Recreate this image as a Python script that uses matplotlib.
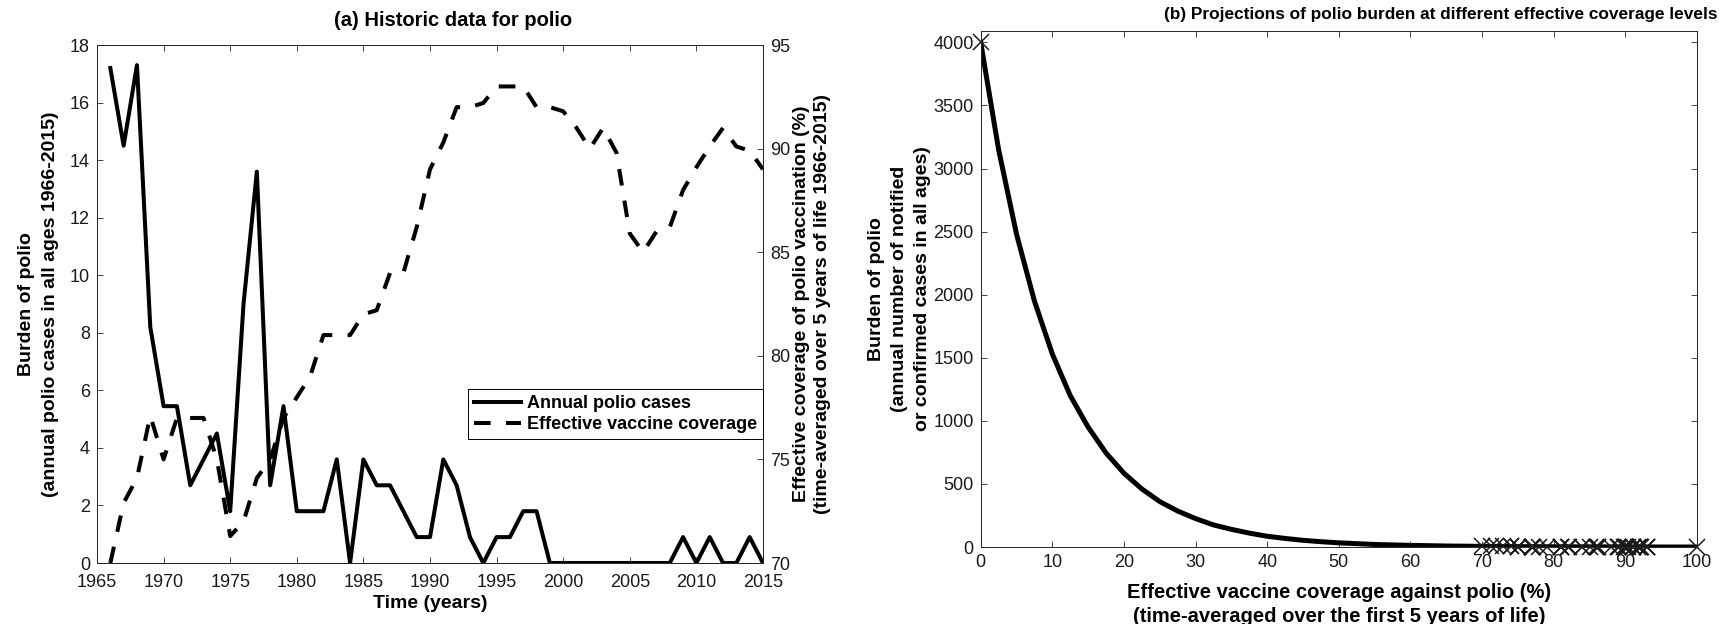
import matplotlib
matplotlib.use("Agg")
import matplotlib.pyplot as plt

# ============================================================
# DATA
# ============================================================

years = list(range(1966, 2016))

# annual polio cases (left axis, panel a)
cases = [17.2, 14.5, 17.3, 8.2, 5.45, 5.45, 2.7, 3.6, 4.5, 1.8,
         9.0, 13.6, 2.7, 5.45, 1.8, 1.8, 1.8, 3.6, 0.0, 3.6,
         2.7, 2.7, 1.8, 0.9, 0.9, 3.6, 2.7, 0.9, 0.0, 0.9,
         0.9, 1.8, 1.8, 0.0, 0.0, 0.0, 0.0, 0.0, 0.0, 0.0,
         0.0, 0.0, 0.0, 0.9, 0.0, 0.9, 0.0, 0.0, 0.9, 0.0]

# effective vaccine coverage in % (right axis, panel a)
coverage = [70.0, 72.9, 74.1, 77.1, 75.0, 77.0, 77.0, 77.0, 75.0, 71.3,
            72.0, 74.1, 75.0, 77.0, 78.0, 79.0, 81.0, 81.0, 81.0, 82.0,
            82.2, 84.0, 84.0, 86.2, 89.0, 90.3, 92.0, 92.0, 92.2, 93.0,
            93.0, 93.0, 92.0, 92.0, 91.8, 91.0, 90.0, 91.0, 89.8, 85.9,
            85.0, 86.0, 86.2, 88.0, 89.1, 90.1, 91.0, 90.1, 89.9, 89.0]

# projected burden vs effective coverage (panel b)
proj_cov = [0, 2.5, 5, 7.5, 10, 12.5, 15, 17.5, 20, 22.5, 25, 27.5, 30,
            32.5, 35, 37.5, 40, 42.5, 45, 47.5, 50, 55, 60, 65, 70, 75,
            80, 85, 90, 95, 100]
proj_burden = [4000, 3150, 2480, 1950, 1530, 1200, 950, 745, 585, 460,
               360, 285, 225, 175, 140, 110, 85, 68, 53, 42, 33, 20, 13,
               8, 5, 3, 2, 1, 1, 0, 0]

# crosses: extremes plus the historic coverage levels
marker_cov = [0] + coverage + [100]
marker_burden = [4000,
                 5, 4, 4, 3, 3, 3, 3, 3, 3, 5,
                 4, 4, 3, 3, 2, 2, 2, 2, 2, 2,
                 2, 1, 1, 1, 1, 1, 1, 1, 1, 1,
                 1, 1, 1, 1, 1, 1, 1, 1, 1, 1,
                 1, 1, 1, 1, 1, 1, 1, 1, 1, 1,
                 0]

year_ticks = list(range(1965, 2020, 5))
case_ticks = list(range(0, 20, 2))
cov_ticks = list(range(70, 100, 5))
proj_xticks = list(range(0, 110, 10))
proj_yticks = list(range(0, 4500, 500))

# ============================================================
# STYLE
# ============================================================

plt.rcParams['font.family'] = ['Liberation Sans', 'DejaVu Sans']
plt.rcParams['lines.scale_dashes'] = False

W, H = 1719, 624
AX_COL = '0.15'
TICK_FS = 13
LAB_FS = 14
TITLE_FS = 14.5


def style_axis(ax):
    for s in ax.spines.values():
        s.set_color(AX_COL)
        s.set_linewidth(0.7)
    ax.tick_params(direction='in', length=4.5, width=0.6, colors=AX_COL,
                   labelsize=TICK_FS, labelcolor='0.1', pad=5)


fig = plt.figure(figsize=(W / 100, H / 100), dpi=100)

# ============================================================
# PANEL (a)
# ============================================================

ax1 = fig.add_axes([97 / W, (H - 563) / H, 666 / W, 518 / H])
l1, = ax1.plot(years, cases, color='k', lw=2.9, label='Annual polio cases')
ax1.set_xlim(1965, 2015)
ax1.set_ylim(0, 18)
ax1.set_xticks(year_ticks)
ax1.set_yticks(case_ticks)
style_axis(ax1)
ax1.tick_params(top=True, right=False)
ax1.tick_params(axis='x', pad=8)
ax1.set_xlabel('Time (years)', fontsize=LAB_FS, fontweight='bold', labelpad=3)
ax1.set_ylabel('Burden of polio\n(annual polio cases in all ages 1966-2015)',
               fontsize=LAB_FS, fontweight='bold', labelpad=8,
               linespacing=1.5)

ax2 = ax1.twinx()
l2, = ax2.plot(years, coverage, color='k', lw=2.9, dashes=(12, 11),
               label='Effective vaccine coverage')
ax2.set_ylim(70, 95)
ax2.set_yticks(cov_ticks)
style_axis(ax2)
ax2.tick_params(left=False, right=True, top=False, bottom=False)
ax2.set_ylabel('Effective coverage of polio vaccination (%)\n'
               '(time-averaged over 5 years of life 1966-2015)',
               fontsize=LAB_FS, fontweight='bold', labelpad=2,
               linespacing=1.3)

leg = ax2.legend(handles=[l1, l2], loc='upper right',
                 bbox_to_anchor=(1.0, 0.336), borderaxespad=0,
                 fancybox=False, framealpha=1, edgecolor='k',
                 prop={'weight': 'bold', 'size': 13},
                 handlelength=2.6, handletextpad=0.3, borderpad=0.35,
                 labelspacing=0.2)
leg.get_frame().set_linewidth(0.7)

fig.text(453 / W, 1 - 21 / H, '(a) Historic data for polio',
         ha='center', va='center', fontsize=TITLE_FS, fontweight='bold')

# ============================================================
# PANEL (b)
# ============================================================

ax3 = fig.add_axes([980.7 / W, (H - 547) / H, 716.3 / W, 516 / H])
ax3.plot(proj_cov, proj_burden, color='k', lw=3.6)
ax3.plot(marker_cov, marker_burden, ls='none', marker='x', ms=12,
         mew=1.1, color='0.1', clip_on=False)
ax3.set_xlim(0, 100)
ax3.set_ylim(0, 4090)
ax3.set_xticks(proj_xticks)
ax3.set_yticks(proj_yticks)
style_axis(ax3)
ax3.tick_params(top=True, right=True)
ax3.set_xlabel('Effective vaccine coverage against polio (%)\n'
               '(time-averaged over the first 5 years of life)',
               fontsize=LAB_FS + 0.5, fontweight='bold', labelpad=9,
               linespacing=1.3)
ax3.set_ylabel('Burden of polio\n(annual number of notified\n'
               'or confirmed cases in all ages)',
               fontsize=LAB_FS, fontweight='bold', labelpad=2,
               linespacing=1.45)

fig.text(1441 / W, 1 - 15 / H,
         '(b) Projections of polio burden at different effective coverage levels',
         ha='center', va='center', fontsize=12.4, fontweight='bold')

fig.savefig('out.png', dpi=100)
